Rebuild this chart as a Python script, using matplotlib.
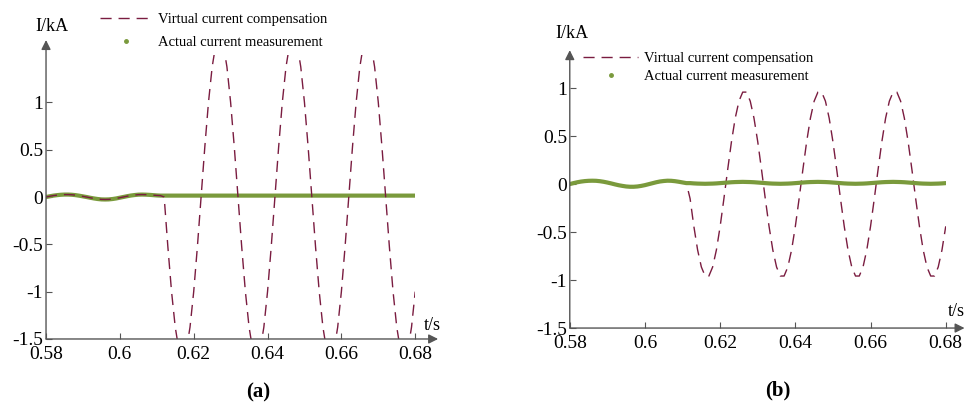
import numpy as np
import matplotlib
matplotlib.use("Agg")
import matplotlib.pyplot as plt
from matplotlib.lines import Line2D

plt.rcParams['font.family'] = ['Liberation Serif', 'DejaVu Serif']

# time axis, 1 ms steps from 0.58 s to 0.68 s
t = np.round(0.58 + 0.001 * np.arange(101), 3)

# panel (a) values (kA)
vir_a = [0.000, 0.008, 0.015, 0.020, 0.024, 0.026, 0.026, 0.024, 0.020, 0.014,
         0.007, 0.000, -0.008, -0.015, -0.021, -0.025, -0.026, -0.025, -0.021, -0.015,
         -0.007, 0.001, 0.009, 0.016, 0.021, 0.025, 0.026, 0.025, 0.023, 0.020,
         0.017, 0.015,
         0.0, -0.525, -1.0, -1.375, -1.617, -1.7, -1.617, -1.375, -1.0, -0.525,
         0.0, 0.525, 1.0, 1.375, 1.617, 1.7, 1.617, 1.375, 1.0, 0.525,
         0.0, -0.525, -1.0, -1.375, -1.617, -1.7, -1.617, -1.375, -1.0, -0.525,
         0.0, 0.525, 1.0, 1.375, 1.617, 1.7, 1.617, 1.375, 1.0, 0.525,
         0.0, -0.525, -1.0, -1.375, -1.617, -1.7, -1.617, -1.375, -1.0, -0.525,
         0.0, 0.525, 1.0, 1.375, 1.617, 1.7, 1.617, 1.375, 1.0, 0.525,
         0.0, -0.525, -1.0, -1.375, -1.617, -1.7, -1.617, -1.375, -1.0]
act_a = [0.000, 0.008, 0.015, 0.020, 0.024, 0.026, 0.026, 0.024, 0.020, 0.014,
         0.007, 0.000, -0.008, -0.015, -0.021, -0.025, -0.026, -0.025, -0.021, -0.015,
         -0.007, 0.001, 0.009, 0.016, 0.021, 0.025, 0.026, 0.025, 0.023, 0.020,
         0.017, 0.015,
         0.015, 0.015, 0.015, 0.015, 0.015, 0.015, 0.015, 0.015, 0.015, 0.015,
         0.015, 0.015, 0.015, 0.015, 0.015, 0.015, 0.015, 0.015, 0.015, 0.015,
         0.015, 0.015, 0.015, 0.015, 0.015, 0.015, 0.015, 0.015, 0.015, 0.015,
         0.015, 0.015, 0.015, 0.015, 0.015, 0.015, 0.015, 0.015, 0.015, 0.015,
         0.015, 0.015, 0.015, 0.015, 0.015, 0.015, 0.015, 0.015, 0.015, 0.015,
         0.015, 0.015, 0.015, 0.015, 0.015, 0.015, 0.015, 0.015, 0.015, 0.015,
         0.015, 0.015, 0.015, 0.015, 0.015, 0.015, 0.015, 0.015, 0.015]

# panel (b)
vir_b = [0.000, 0.010, 0.019, 0.026, 0.031, 0.034, 0.035, 0.034, 0.030, 0.024,
         0.016, 0.007, -0.003, -0.012, -0.019, -0.025, -0.028, -0.028, -0.025, -0.019,
         -0.011, -0.001, 0.009, 0.019, 0.027, 0.032, 0.035, 0.034, 0.030, 0.024,
         0.017, 0.010,
         -0.151, -0.440, -0.686, -0.864, -0.958, -0.958, -0.864, -0.686, -0.440, -0.151,
         0.151, 0.440, 0.686, 0.864, 0.958, 0.958, 0.864, 0.686, 0.440, 0.151,
         -0.151, -0.440, -0.686, -0.864, -0.958, -0.958, -0.864, -0.686, -0.440, -0.151,
         0.151, 0.440, 0.686, 0.864, 0.958, 0.958, 0.864, 0.686, 0.440, 0.151,
         -0.151, -0.440, -0.686, -0.864, -0.958, -0.958, -0.864, -0.686, -0.440, -0.151,
         0.151, 0.440, 0.686, 0.864, 0.958, 0.958, 0.864, 0.686, 0.440, 0.151,
         -0.151, -0.440, -0.686, -0.864, -0.958, -0.958, -0.864, -0.686, -0.440]
act_b = [0.000, 0.010, 0.019, 0.026, 0.031, 0.034, 0.035, 0.034, 0.030, 0.024,
         0.016, 0.007, -0.003, -0.012, -0.019, -0.025, -0.028, -0.028, -0.025, -0.019,
         -0.011, -0.001, 0.009, 0.019, 0.027, 0.032, 0.035, 0.034, 0.030, 0.024,
         0.017, 0.010,
         0.010, 0.007, 0.005, 0.004,
         0.003, 0.004, 0.005, 0.007, 0.010, 0.013, 0.016, 0.019, 0.021, 0.022,
         0.023, 0.022, 0.021, 0.019, 0.016, 0.013, 0.010, 0.007, 0.005, 0.004,
         0.003, 0.004, 0.005, 0.007, 0.010, 0.013, 0.016, 0.019, 0.021, 0.022,
         0.023, 0.022, 0.021, 0.019, 0.016, 0.013, 0.010, 0.007, 0.005, 0.004,
         0.003, 0.004, 0.005, 0.007, 0.010, 0.013, 0.016, 0.019, 0.021, 0.022,
         0.023, 0.022, 0.021, 0.019, 0.016, 0.013, 0.010, 0.007, 0.005, 0.004,
         0.003, 0.004, 0.005, 0.007, 0.010]

xticks = [0.58, 0.6, 0.62, 0.64, 0.66, 0.68]
xlabels = ['0.58', '0.6', '0.62', '0.64', '0.66', '0.68']
yticks = [-1.5, -1, -0.5, 0, 0.5, 1]
ylabels = ['-1.5', '-1', '-0.5', '0', '0.5', '1']

red = '#7a1c40'
green = '#7a9a3c'
axcol = '#555555'

fig = plt.figure(figsize=(9.69, 4.05), dpi=100)
ax_a = fig.add_axes([0.0475, 0.163, 0.381, 0.701])
ax_b = fig.add_axes([0.588, 0.190, 0.388, 0.711])


def style(ax, xarrow, yarrow, lab_i, lab_t):
    ax.set_xlim(0.58, 0.68)
    ax.set_ylim(-1.5, 1.5)
    ax.set_xticks(xticks)
    ax.set_xticklabels(xlabels)
    ax.set_yticks(yticks)
    ax.set_yticklabels(ylabels)
    for s in ax.spines.values():
        s.set_visible(False)
    ax.tick_params(direction='in', length=4, width=0.8, color=axcol, labelsize=14)
    ax.tick_params(axis='y', pad=2)
    ax.tick_params(axis='x', pad=5)
    ax.annotate('', xy=(xarrow, 0), xytext=(0, 0), xycoords='axes fraction',
                arrowprops=dict(arrowstyle='-|>', color=axcol, lw=1.0,
                                mutation_scale=14, shrinkA=0, shrinkB=0))
    ax.annotate('', xy=(0, yarrow), xytext=(0, 0), xycoords='axes fraction',
                arrowprops=dict(arrowstyle='-|>', color=axcol, lw=1.0,
                                mutation_scale=14, shrinkA=0, shrinkB=0))
    ax.text(lab_i[0], lab_i[1], 'I/kA', transform=ax.transAxes, fontsize=13,
            ha='center', va='center')
    ax.text(lab_t[0], lab_t[1], 't/s', transform=ax.transAxes, fontsize=13,
            ha='center', va='center')


# (a): dashed line drawn above the green one
ax_a.plot(t, act_a, color=green, lw=3, solid_capstyle='round', zorder=2)
ax_a.plot(t, vir_a, color=red, lw=1.0, dashes=(8, 5), zorder=3)
style(ax_a, 1.062, 1.053, (0.016, 1.099), (1.046, 0.046))

# (b): green line drawn above the dashed one
ax_b.plot(t, vir_b, color=red, lw=1.0, dashes=(8, 5), zorder=2)
ax_b.plot(t, act_b, color=green, lw=3, solid_capstyle='round', zorder=3)
style(ax_b, 1.05, 0.965, (0.005, 1.024), (1.029, 0.056))

handles = [Line2D([], [], color=red, lw=1.0, dashes=(8, 5)),
           Line2D([], [], color=green, ls='none', marker='o', markersize=2.5)]
names = ['Virtual current compensation', 'Actual current measurement']

ax_a.legend(handles, names, loc='upper left', bbox_to_anchor=(0.146, 1.149),
            frameon=False, fontsize=10.5, handlelength=3.6, handletextpad=0.4,
            borderpad=0, borderaxespad=0, labelspacing=0.7)
ax_b.legend(handles, names, loc='upper left', bbox_to_anchor=(0.035, 0.958),
            frameon=False, fontsize=10.5, handlelength=3.8, handletextpad=0.4,
            borderpad=0, borderaxespad=0, labelspacing=0.3)

fig.text(258 / 969, 1 - 392 / 405, '(a)', fontsize=15, fontweight='bold',
         ha='center', va='center')
fig.text(778 / 969, 1 - 390 / 405, '(b)', fontsize=15, fontweight='bold',
         ha='center', va='center')

fig.savefig('out.png', dpi=100)
